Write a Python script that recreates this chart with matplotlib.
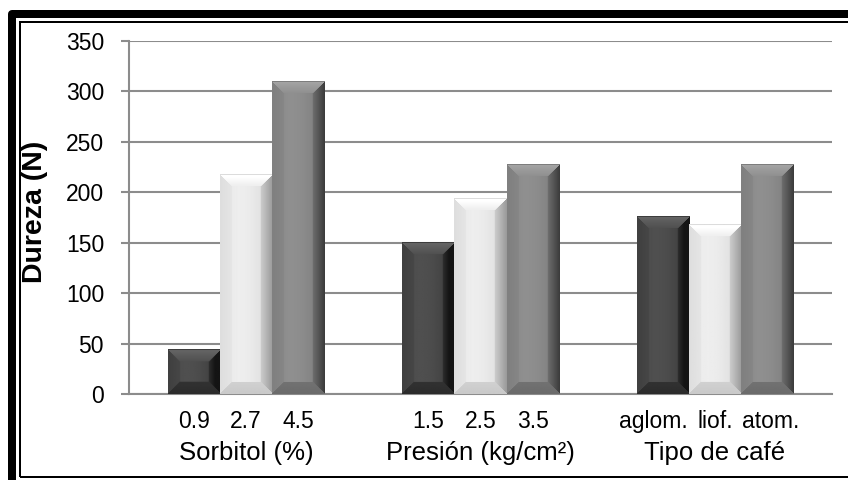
import numpy as np
import matplotlib.pyplot as plt
from matplotlib.patches import Rectangle

plt.rcParams['font.family'] = ['Liberation Sans', 'DejaVu Sans']

# Datos (Dureza en N)
factores = ['Sorbitol (%)', 'Presión (kg/cm²)', 'Tipo de café']
niveles = [['0.9', '2.7', '4.5'], ['1.5', '2.5', '3.5'], ['aglom.', 'liof.', 'atom.']]
nivel_bajo = [44, 150, 176]
nivel_medio = [218, 194, 168]
nivel_alto = [310, 228, 228]
tonos = [0.26, 0.88, 0.51]  # gris de cada serie

W, H = 848, 480
fig = plt.figure(figsize=(W / 100, H / 100), dpi=100)
ax = fig.add_axes([129 / W, 1 - 394 / H, (832 - 129) / W, (394 - 41) / H])
ax.set_xlim(-0.5, 2.5)
ax.set_ylim(0, 350)


def bisel(g, wpx, hpx, b=12):
    # imagen de la barra con efecto de bisel
    i = np.arange(hpx)[:, None] * np.ones((1, wpx))
    j = np.arange(wpx)[None, :] * np.ones((hpx, 1))
    dt, db, dl, dr = i, hpx - 1 - i, j, wpx - 1 - j
    d = np.stack([dt, db, dl, dr])
    cerca = d.argmin(axis=0)
    borde = d.min(axis=0) < b
    xf = j / max(wpx - 1, 1)
    v = g + 0.05 - 0.25 * (xf - 0.35) ** 2
    v = np.where(borde & (cerca == 0), g + 0.14 - 0.09 * (dt / b), v)
    v = np.where(borde & (cerca == 1), g - 0.06 - 0.03 * (1 - db / b), v)
    v = np.where(borde & (cerca == 2), g - 0.01 + 0.03 * (dl / b), v)
    v = np.where(borde & (cerca == 3), g - 0.07 - 0.2 * (1 - dr / b), v)
    v[0, :] = g - 0.02
    return np.clip(v, 0.08, 1.0)


x = np.arange(len(factores))
w = 1 / 4.5
desplaz = {'aglom.': -9, 'atom.': 4}  # ajuste en px de etiquetas
for k, (vals, g) in enumerate(zip([nivel_bajo, nivel_medio, nivel_alto], tonos)):
    barras = ax.bar(x + (k - 1) * w, vals, w, color=str(g), zorder=2)
    for p in barras.patches:
        x0, x1 = p.get_x(), p.get_x() + p.get_width()
        h = p.get_height()
        (px0, py0), (px1, py1) = ax.transData.transform([(x0, 0), (x1, h)])
        img = bisel(g, int(round(px1 - px0)), max(int(round(py1 - py0)), 2))
        ax.imshow(img, cmap='gray', vmin=0, vmax=1, extent=(x0, x1, 0, h),
                  aspect='auto', interpolation='bilinear', zorder=3)
    for xi, lab in zip(x + (k - 1) * w, [n[k] for n in niveles]):
        ax.annotate(lab, xy=(xi, 0), xycoords=('data', 'axes fraction'),
                    xytext=(desplaz.get(lab, 0) * 0.72, -19.5), textcoords='offset points',
                    ha='center', va='center', fontsize=16.5)

for xi, f in zip(x, factores):
    ax.annotate(f, xy=(xi, 0), xycoords=('data', 'axes fraction'),
                xytext=(0, -42.5), textcoords='offset points',
                ha='center', va='center', fontsize=18.5)

ax.set_xlim(-0.5, 2.5)
ax.set_ylim(0, 350)
ax.set_yticks(np.arange(0, 351, 50))
ax.set_xticks([])
ax.yaxis.grid(True, color='#8c8c8c', lw=1.5)
ax.set_axisbelow(True)
for s in ['top', 'right']:
    ax.spines[s].set_visible(False)
for s in ['left', 'bottom']:
    ax.spines[s].set_color('#8c8c8c')
    ax.spines[s].set_linewidth(1.5)
ax.tick_params(axis='y', length=6, width=1.5, color='#8c8c8c', pad=12, labelsize=16.5)

fig.text(35 / W, 1 - 212 / H, 'Dureza (N)', rotation=90, ha='center', va='center',
         fontsize=20.5, fontweight='bold')

# marco doble
fig.add_artist(Rectangle((12.3 / W, 1 - 483 / H), 900 / W, (483 - 13.8) / H,
                         transform=fig.transFigure, fill=False, ec='black',
                         lw=8 * 0.72, joinstyle='round'))
fig.add_artist(Rectangle((19.5 / W, 1 - 476.5 / H), 900 / W, (476.5 - 22) / H,
                         transform=fig.transFigure, fill=False, ec='black',
                         lw=2 * 0.72))

fig.savefig('out.png', dpi=100)
